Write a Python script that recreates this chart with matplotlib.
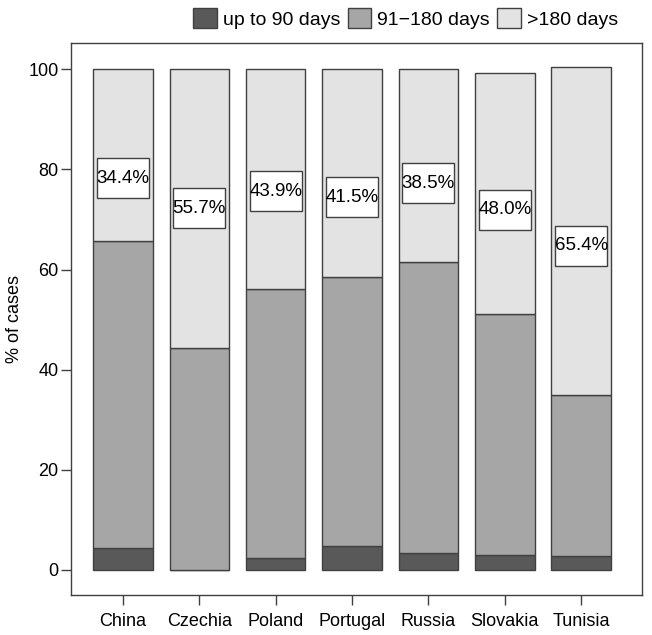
import matplotlib
matplotlib.use('Agg')
import matplotlib.pyplot as plt
from matplotlib.patches import Patch, Rectangle

plt.rcParams['font.family'] = ['Liberation Sans', 'DejaVu Sans']

#T# data
countries = ['China', 'Czechia', 'Poland', 'Portugal', 'Russia', 'Slovakia', 'Tunisia']
up_to_90 = [4.4, 0.0, 2.4, 4.8, 3.3, 3.0, 2.7]
d91_180 = [61.2, 44.3, 53.7, 53.8, 58.2, 48.2, 32.3]
over_180 = [34.4, 55.7, 43.9, 41.5, 38.5, 48.0, 65.4]
label_y = [78.2, 72.2, 75.6, 74.4, 77.2, 71.9, 64.7]
series_names = ['up to 90 days', '91\u2212180 days', '>180 days']
yticks = [0, 20, 40, 60, 80, 100]

colors = ['#595959', '#a6a6a6', '#e3e3e3']
edge = '#404040'

fig1 = plt.figure(figsize=(6.52, 6.35), dpi=100)
ax1 = fig1.add_axes([0.109, 0.063, 0.876, 0.869])

x = list(range(len(countries)))
bottom = [0.0] * len(countries)
for vals, col in zip([up_to_90, d91_180, over_180], colors):
    ax1.bar(x, vals, width=0.78, bottom=bottom, color=col, edgecolor=edge, linewidth=1)
    bottom = [b + v for b, v in zip(bottom, vals)]

#T# value labels in white boxes
for xi, yi, v in zip(x, label_y, over_180):
    ax1.add_patch(Rectangle((xi - 0.34, yi - 4.0), 0.68, 8.0, facecolor='white',
                            edgecolor=edge, linewidth=1, zorder=3))
    ax1.text(xi, yi, '%.1f%%' % v, ha='center', va='center', fontsize=13.5, zorder=4)

ax1.set_xlim(-0.68, 6.8)
ax1.set_ylim(-5.0, 105.2)
ax1.set_xticks(x)
ax1.set_xticklabels(countries)
ax1.set_yticks(yticks)
ax1.tick_params(axis='both', labelsize=13, length=7, width=1, color='#404040', pad=2)
ax1.tick_params(axis='x', pad=6)
for sp in ax1.spines.values():
    sp.set_color('#404040')
    sp.set_linewidth(1)
ax1.set_ylabel('% of cases', fontsize=13, labelpad=4)

handles = [Patch(facecolor=c, edgecolor=edge, linewidth=1) for c in colors]
fig1.legend(handles, series_names, loc='center', bbox_to_anchor=(0.622, 0.971), ncol=3,
            frameon=False, fontsize=14, handlelength=1.2, handleheight=1.2,
            handletextpad=0.3, columnspacing=0.4, borderaxespad=0)

fig1.savefig('out.png', dpi=100)
